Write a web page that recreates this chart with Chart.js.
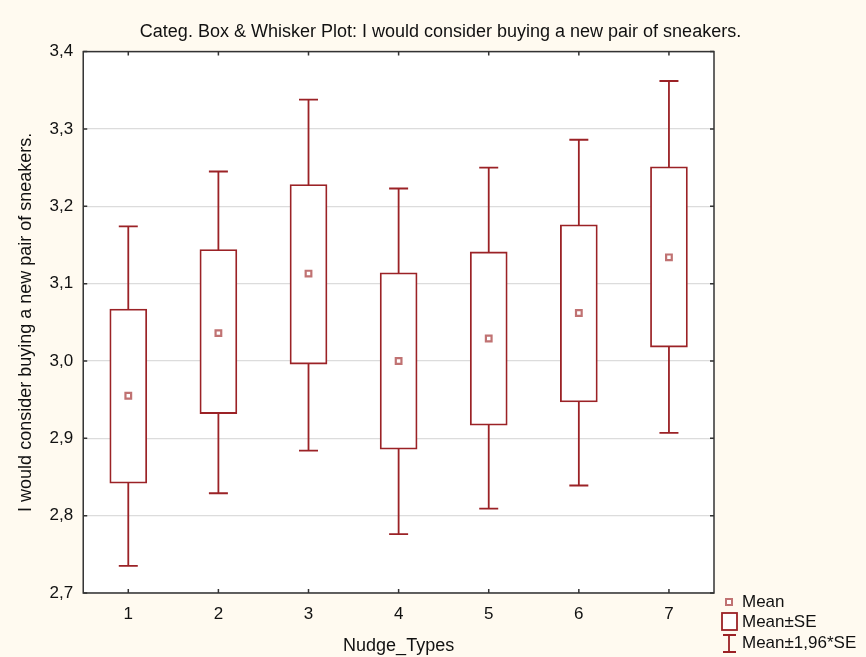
<!DOCTYPE html>
<html>
<head>
<meta charset="utf-8">
<script src="https://cdn.jsdelivr.net/npm/chart.js@4"></script>
<style>
  html, body { margin: 0; padding: 0; background: #fffaf0; }
  #wrap { width: 866px; height: 657px; position: relative; }
</style>
</head>
<body>
<div id="wrap"><canvas id="boxChart" width="866" height="657"></canvas></div>
<script>
// Nudge types and the read-off values (mean, mean±SE, mean±1,96*SE)
const categories = ['1', '2', '3', '4', '5', '6', '7'];
const means  = [2.955, 3.036, 3.113, 3.000, 3.029, 3.062, 3.134];
const seLow  = [2.842, 2.932, 2.996, 2.886, 2.917, 2.947, 3.018];
const seHigh = [3.067, 3.144, 3.228, 3.114, 3.141, 3.176, 3.251];
const ciLow  = [2.735, 2.829, 2.884, 2.776, 2.809, 2.839, 2.907];
const ciHigh = [3.174, 3.245, 3.338, 3.223, 3.250, 3.286, 3.362];
const yMin = 2.7, yMax = 3.4, yStep = 0.1;

const RED = '#9b2226';
const MEAN_RED = '#c07272';
const FONT = '"Liberation Sans", Arial, sans-serif';

// whiskers, white plot area, inward ticks, frame and legend
const boxPlugin = {
    id: 'boxPlugin',
    beforeDraw(chart) {
        const a = chart.chartArea, ctx = chart.ctx;
        ctx.save();
        ctx.fillStyle = '#ffffff';
        ctx.fillRect(a.left, a.top, a.right - a.left, a.bottom - a.top);
        ctx.restore();
    },
    beforeDatasetsDraw(chart) {
        const ctx = chart.ctx, x = chart.scales.x, y = chart.scales.y;
        ctx.save();
        ctx.strokeStyle = RED;
        ctx.lineWidth = 1.8;
        categories.forEach((c, i) => {
            const px = x.getPixelForValue(i);
            const top = y.getPixelForValue(ciHigh[i]);
            const bot = y.getPixelForValue(ciLow[i]);
            ctx.beginPath();
            ctx.moveTo(px, top); ctx.lineTo(px, bot);
            ctx.moveTo(px - 9.5, top); ctx.lineTo(px + 9.5, top);
            ctx.moveTo(px - 9.5, bot); ctx.lineTo(px + 9.5, bot);
            ctx.stroke();
        });
        ctx.restore();
    },
    afterDraw(chart) {
        const ctx = chart.ctx, a = chart.chartArea, x = chart.scales.x, y = chart.scales.y;
        ctx.save();
        // frame
        ctx.strokeStyle = '#333';
        ctx.lineWidth = 1.5;
        ctx.strokeRect(a.left, a.top, a.right - a.left, a.bottom - a.top);
        // inward ticks
        ctx.beginPath();
        categories.forEach((c, i) => {
            const px = x.getPixelForValue(i);
            ctx.moveTo(px, a.bottom); ctx.lineTo(px, a.bottom - 4);
            ctx.moveTo(px, a.top); ctx.lineTo(px, a.top + 4);
        });
        for (let v = yMin; v <= yMax + 1e-9; v += yStep) {
            const py = y.getPixelForValue(v);
            ctx.moveTo(a.left, py); ctx.lineTo(a.left + 4, py);
            ctx.moveTo(a.right, py); ctx.lineTo(a.right - 4, py);
        }
        ctx.stroke();

        // legend
        const lx = a.right + 15;
        ctx.font = '17px ' + FONT;
        ctx.textBaseline = 'middle';
        ctx.textAlign = 'left';
        // mean marker
        ctx.strokeStyle = MEAN_RED;
        ctx.lineWidth = 2;
        ctx.fillStyle = '#fff';
        ctx.fillRect(lx - 3, 599, 6, 6);
        ctx.strokeRect(lx - 3, 599, 6, 6);
        ctx.fillStyle = '#111';
        ctx.fillText('Mean', lx + 13, 602);
        // SE box
        ctx.strokeStyle = RED;
        ctx.lineWidth = 1.8;
        ctx.fillStyle = '#fff';
        ctx.fillRect(lx - 7, 613, 15, 17);
        ctx.strokeRect(lx - 7, 613, 15, 17);
        ctx.fillStyle = '#111';
        ctx.fillText('Mean±SE', lx + 13, 622);
        // whisker
        ctx.beginPath();
        ctx.moveTo(lx, 635); ctx.lineTo(lx, 652);
        ctx.moveTo(lx - 6, 635); ctx.lineTo(lx + 7, 635);
        ctx.moveTo(lx - 6, 652); ctx.lineTo(lx + 7, 652);
        ctx.stroke();
        ctx.fillText('Mean±1,96*SE', lx + 13, 643);
        ctx.restore();
    }
};

new Chart(document.getElementById('boxChart'), {
    type: 'bar',
    data: {
        labels: categories,
        datasets: [
            {
                type: 'line',
                label: 'Mean',
                data: means,
                showLine: false,
                pointStyle: 'rect',
                pointRadius: 4,
                pointBorderWidth: 2.2,
                pointBorderColor: MEAN_RED,
                pointBackgroundColor: '#ffffff',
                order: 0
            },
            {
                label: 'Mean±SE',
                data: categories.map((c, i) => [seLow[i], seHigh[i]]),
                backgroundColor: '#ffffff',
                borderColor: RED,
                borderWidth: 1.8,
                borderSkipped: false,
                barThickness: 37,
                order: 1
            }
        ]
    },
    options: {
        responsive: false,
        animation: false,
        devicePixelRatio: 1,
        layout: { padding: { left: 15, right: 0, top: 0, bottom: 0 } },
        plugins: {
            legend: { display: false },
            tooltip: { enabled: false },
            title: {
                display: true,
                text: 'Categ. Box & Whisker Plot: I would consider buying a new pair of sneakers.',
                color: '#111',
                font: { family: FONT, size: 18, weight: 'normal' },
                padding: { top: 21, bottom: 9 }
            }
        },
        scales: {
            x: {
                grid: { display: false, drawTicks: false },
                border: { display: false },
                ticks: { color: '#111', font: { family: FONT, size: 17 }, padding: 11 },
                title: {
                    display: true,
                    text: 'Nudge_Types',
                    color: '#111',
                    font: { family: FONT, size: 18 },
                    padding: { top: 0, bottom: 0 }
                }
            },
            y: {
                min: yMin,
                max: yMax,
                grid: { color: '#dcdcdc', lineWidth: 1.2, drawTicks: false },
                border: { display: false },
                ticks: {
                    stepSize: yStep,
                    color: '#111',
                    font: { family: FONT, size: 17 },
                    padding: 10,
                    callback: v => v.toFixed(1).replace('.', ',')
                },
                title: {
                    display: true,
                    text: 'I would consider buying a new pair of sneakers.',
                    color: '#111',
                    font: { family: FONT, size: 18 },
                    padding: { top: 0, bottom: 3 }
                }
            },
            // empty right-hand strip that keeps room for the legend
            side: {
                position: 'right',
                display: true,
                grid: { display: false, drawTicks: false },
                border: { display: false },
                ticks: { display: false },
                afterFit: s => { s.width = 152; }
            }
        }
    },
    plugins: [boxPlugin]
});
</script>
</body>
</html>
